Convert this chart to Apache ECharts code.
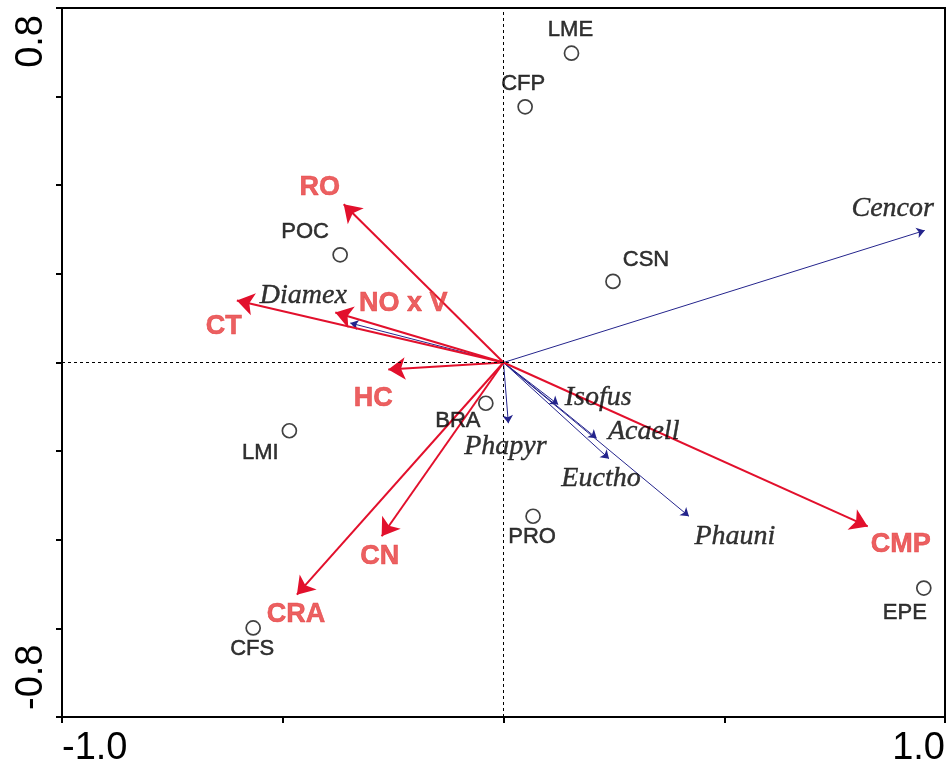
<!DOCTYPE html>
<html>
<head>
<meta charset="utf-8">
<script src="https://cdn.jsdelivr.net/npm/echarts@6/dist/echarts.min.js"></script>
<style>html,body{margin:0;padding:0;background:#fff}#c{width:948px;height:768px}</style>
</head>
<body>
<div id="c"></div>
<script>
// ---- data ----
var siteNames = ['LME', 'CFP', 'CSN', 'POC', 'BRA', 'LMI', 'PRO', 'CFS', 'EPE'];
var siteX = [0.154, 0.049, 0.248, -0.370, -0.040, -0.485, 0.067, -0.567, 0.952];
var siteY = [0.698, 0.577, 0.183, 0.243, -0.092, -0.154, -0.347, -0.599, -0.509];

var envNames = ['RO', 'CT', 'NO x V', 'HC', 'CN', 'CRA', 'CMP'];
var envX = [-0.362, -0.604, -0.381, -0.261, -0.276, -0.468, 0.825];
var envY = [0.357, 0.140, 0.113, -0.016, -0.392, -0.524, -0.370];

var spNames = ['Cencor', 'Diamex', 'Phapyr', 'Isofus', 'Acaell', 'Euctho', 'Phauni'];
var spX = [0.954, -0.347, 0.011, 0.124, 0.211, 0.239, 0.420];
var spY = [0.298, 0.089, -0.137, -0.095, -0.171, -0.217, -0.347];

var xTicks = [-1.0, 1.0];
var yTicks = [-0.8, 0.8];

// ---- label placement (pixels, relative to point) ----
var siteLabelOffset = {
  LME: [-1, -23], CFP: [-2, -23], CSN: [33, -21], POC: [-35, -23], BRA: [-28, 18],
  LMI: [-29, 22], PRO: [-1, 21], CFS: [-1, 21], EPE: [-19, 25]
};
var envLabelOffset = {
  'RO': [-24, -17], 'CT': [-13, 26], 'NO x V': [68, -9], 'HC': [-15, 29],
  'CN': [-2, 20], 'CRA': [-1, 20], 'CMP': [33, 18]
};
var spLabelOffset = {
  Cencor: [-32, -22], Diamex: [-47, -27], Phapyr: [-3, 23], Isofus: [40, -7],
  Acaell: [47, -7], Euctho: [-8, 20], Phauni: [46, 20]
};

var RED = '#e2102c', RED_TXT = '#e6383a', BLUE = '#24248c';

function isTick(v, list) {
  for (var i = 0; i < list.length; i++) if (Math.abs(v - list[i]) < 1e-9) return true;
  return false;
}

function arrowData(xs, ys) {
  return xs.map(function (x, i) { return { coords: [[0, 0], [x, ys[i]]] }; });
}
function tipData(names, xs, ys, offsets) {
  return names.map(function (n, i) {
    return { name: n, value: [xs[i], ys[i]], label: { offset: offsets[n] } };
  });
}

function stroke(color, w) {
  return { textBorderWidth: w, textBorderColor: color, textShadowBlur: 0 };
}

var chart = echarts.init(document.getElementById('c'));
chart.setOption({
  animation: false,
  grid: { left: 62, right: 3, top: 8, bottom: 51, show: true, borderColor: '#000', borderWidth: 2, backgroundColor: 'transparent' },
  xAxis: {
    type: 'value', min: -1, max: 1, interval: 0.5,
    axisLine: { show: true, onZero: false, lineStyle: { color: '#000', width: 2 } },
    axisTick: { show: true, inside: false, length: 6, lineStyle: { color: '#000', width: 2 } },
    splitLine: { show: false },
    axisLabel: {
      show: true, margin: 13, color: '#000', fontSize: 38, fontFamily: 'Liberation Sans, Arial',
      alignMinLabel: 'left', alignMaxLabel: 'right',
      formatter: function (v) { return isTick(v, xTicks) ? v.toFixed(1) : ''; }
    }
  },
  yAxis: {
    type: 'value', min: -0.8, max: 0.8, interval: 0.2,
    axisLine: { show: true, onZero: false, lineStyle: { color: '#000', width: 2 } },
    axisTick: { show: true, inside: false, length: 6, lineStyle: { color: '#000', width: 2 } },
    splitLine: { show: false },
    axisLabel: {
      show: true, rotate: 90, margin: 11, color: '#000', fontSize: 38, fontFamily: 'Liberation Sans, Arial',
      alignMinLabel: 'left', alignMaxLabel: 'right', padding: [0, 7, 0, 7],
      formatter: function (v) { return isTick(v, yTicks) ? v.toFixed(1) : ''; }
    }
  },
  series: [
    {
      type: 'lines', coordinateSystem: 'cartesian2d', z: 2, silent: true,
      symbol: ['none', 'arrow'], symbolSize: [1, 8], symbolOffset: [0, [0, 4]],
      lineStyle: { color: BLUE, width: 1, opacity: 1 },
      data: arrowData(spX, spY),
      markLine: {
        silent: true, symbol: ['none', 'none'], label: { show: false },
        lineStyle: { color: '#000', type: [3, 3], width: 1 },
        data: [{ xAxis: 0 }, { yAxis: 0 }]
      }
    },
    {
      type: 'lines', coordinateSystem: 'cartesian2d', z: 3, silent: true,
      symbol: ['none', 'arrow'], symbolSize: [1, 17], symbolOffset: [0, [0, 8]],
      lineStyle: { color: RED, width: 2, opacity: 1 },
      data: arrowData(envX, envY)
    },
    {
      type: 'scatter', z: 4, silent: true, symbol: 'circle', symbolSize: 14,
      itemStyle: { color: 'rgba(255,255,255,0)', borderColor: '#111', borderWidth: 1.7 },
      label: Object.assign({ show: true, position: 'inside', formatter: '{b}', color: '#000', fontSize: 22, fontFamily: 'Liberation Sans, Arial' }, stroke('#000', 0.5)),
      data: tipData(siteNames, siteX, siteY, siteLabelOffset)
    },
    {
      type: 'scatter', z: 5, silent: true, symbol: 'circle', symbolSize: 1,
      itemStyle: { color: 'rgba(0,0,0,0)' },
      label: Object.assign({ show: true, position: 'inside', formatter: '{b}', color: RED_TXT, fontSize: 27, fontWeight: 'bold', fontFamily: 'Liberation Sans, Arial' }, stroke(RED_TXT, 0.6)),
      data: tipData(envNames, envX, envY, envLabelOffset)
    },
    {
      type: 'scatter', z: 5, silent: true, symbol: 'circle', symbolSize: 1,
      itemStyle: { color: 'rgba(0,0,0,0)' },
      label: Object.assign({ show: true, position: 'inside', formatter: '{b}', color: '#000', fontSize: 28, fontStyle: 'italic', fontFamily: 'Liberation Serif, Times New Roman' }, stroke('#000', 0.4)),
      data: tipData(spNames, spX, spY, spLabelOffset)
    }
  ]
});
</script>
</body>
</html>
